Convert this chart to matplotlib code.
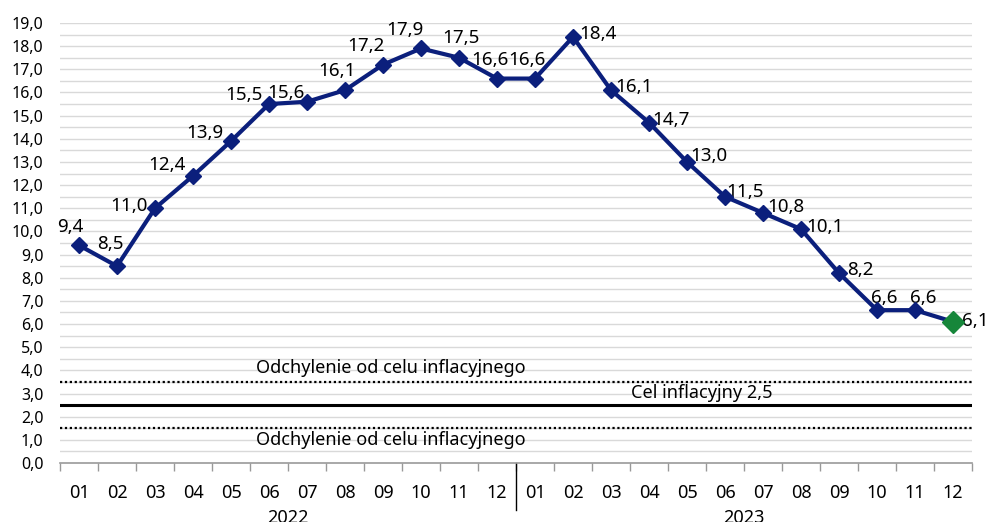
import matplotlib
matplotlib.use("Agg")
import matplotlib.pyplot as plt
import matplotlib.transforms as mtransforms
import numpy as np

months = ["01", "02", "03", "04", "05", "06", "07", "08", "09", "10", "11", "12",
          "01", "02", "03", "04", "05", "06", "07", "08", "09", "10", "11", "12"]
years = ["2022", "2023"]
cpi = [9.4, 8.5, 11.0, 12.4, 13.9, 15.5, 15.6, 16.1, 17.2, 17.9, 17.5, 16.6,
       16.6, 18.4, 16.1, 14.7, 13.0, 11.5, 10.8, 10.1, 8.2, 6.6, 6.6, 6.1]
target = 2.5
band_upper = 3.5
band_lower = 1.5
band_label = "Odchylenie od celu inflacyjnego"
target_label = "Cel inflacyjny 2,5"

# label offsets in pixels (dx, dy up positive)
offsets = [(-9, 18), (-7, 22), (-26, 2), (-26, 11), (-26, 8), (-25, 9), (-21, 9),
           (-8, 19), (-17, 19), (-16, 18), (2, 20), (-7, 19), (-8, 19),
           (25, 3), (23, 3), (22, 3), (22, 6), (20, 5), (23, 6), (24, 2),
           (21, 3), (7, 12), (8, 12), (22, 1)]

plt.rcParams['font.family'] = ['Noto Sans', 'DejaVu Sans']

fig = plt.figure(figsize=(9.88, 5.22), dpi=100)
ax = fig.add_axes([60/988, 59/522, 912/988, 440/522])

x = np.arange(len(cpi))
navy = "#0b1f7c"
green = "#16863a"

ax.set_xlim(-0.5, len(cpi) - 0.5)
ax.set_ylim(0, 19)

for v in np.arange(0.5, 19.01, 0.5):
    ax.axhline(v, color="#d9d9d9", lw=1.0, zorder=0)

ax.axhline(band_upper, color="black", lw=1.6, ls=(0, (1, 1.2)), zorder=1)
ax.axhline(band_lower, color="black", lw=1.6, ls=(0, (1, 1.2)), zorder=1)
ax.axhline(target, color="black", lw=2.2, zorder=1)

ax.text(8.2, band_upper + 0.22, band_label, fontsize=13, ha="center", va="bottom")
ax.text(8.2, band_lower - 0.12, band_label, fontsize=13, ha="center", va="top")
ax.text(16.4, target + 0.12, target_label, fontsize=13, ha="center", va="bottom")

ax.plot(x, cpi, color=navy, lw=3, zorder=3)
ax.plot(x[:-1], cpi[:-1], ls="none", marker="D", ms=8.5, color=navy, zorder=4)
ax.plot(x[-1:], cpi[-1:], ls="none", marker="D", ms=11, color=green, zorder=4)

for xi, v, (dx, dy) in zip(x, cpi, offsets):
    ax.annotate(f"{v:.1f}".replace(".", ","), (xi, v), xytext=(dx, dy),
                textcoords="offset pixels", ha="center", va="center", fontsize=13.5)

ax.set_yticks(np.arange(0, 19.01, 1))
ax.set_yticklabels([f"{v:.1f}".replace(".", ",") for v in np.arange(0, 19.01, 1)], fontsize=11.5)
ax.tick_params(axis="y", length=0, pad=12)

ax.set_xticks(x)
ax.set_xticklabels(months, fontsize=13)
ax.set_xticks(np.arange(-0.5, len(cpi), 1), minor=True)
ax.tick_params(axis="x", which="major", length=0, pad=15)
ax.tick_params(axis="x", which="minor", length=6, color="#999999", width=1)

for s in ["top", "right", "left"]:
    ax.spines[s].set_visible(False)
ax.spines["bottom"].set_color("#999999")
ax.spines["bottom"].set_linewidth(1.2)

trans = mtransforms.blended_transform_factory(ax.transData, ax.transAxes)
ax.plot([11.5, 11.5], [0, -47/440], transform=trans, color="black", lw=1, clip_on=False)

for i, y in enumerate(years):
    ax.text(5.5 + 12 * i, -55/440, y, transform=trans, ha="center", va="center", fontsize=13)

fig.savefig("out.png", dpi=100)
